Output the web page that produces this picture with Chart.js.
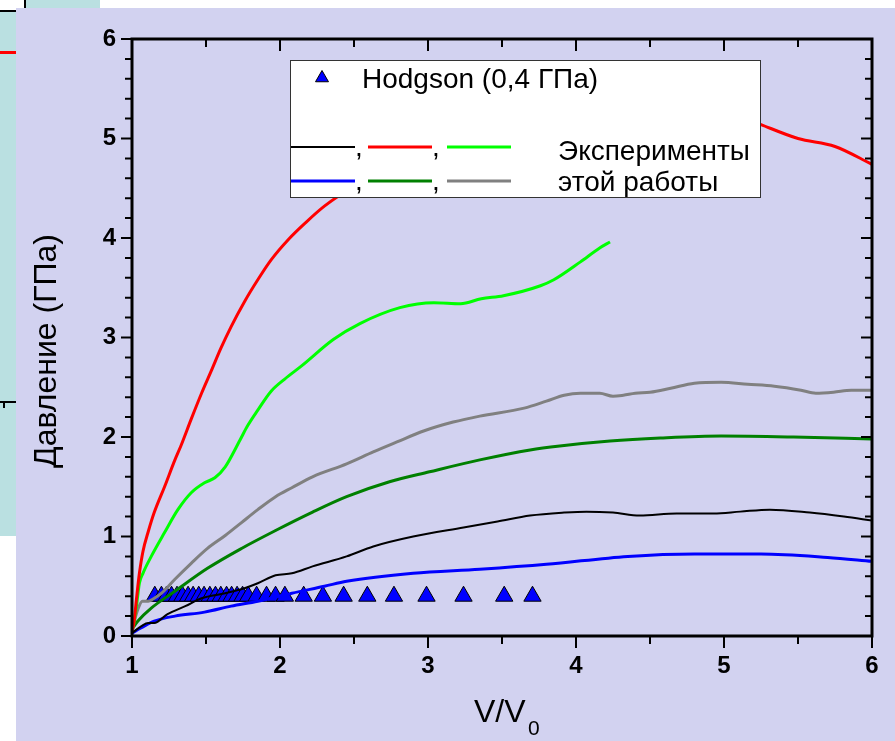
<!DOCTYPE html>
<html lang="ru">
<head>
<meta charset="utf-8">
<title>Давление (ГПа) — V/V0</title>
<script src="https://cdn.jsdelivr.net/npm/chart.js@4/dist/chart.umd.min.js"></script>
<style>
  html, body { margin: 0; padding: 0; background: #fff; }
  #page { position: relative; width: 895px; height: 741px; overflow: hidden; }
  #back { position: absolute; left: 0; top: 0; width: 100px; height: 536px; background: #bae0e1; }
  #back .box { position: absolute; left: 0; top: 0; width: 24px; height: 10px; background: #fff; border-right: 2px solid #000; border-bottom: 2px solid #000; }
  #back .red { position: absolute; left: 0; top: 51px; width: 16px; height: 3px; background: #f00; }
  #back .axis { position: absolute; left: 0; top: 401px; width: 16px; height: 2px; background: #000; }
  #back .tick { position: absolute; left: 3px; top: 402px; width: 2px; height: 6px; background: #000; }
  #plot { position: absolute; left: 16px; top: 8px; right: 0; bottom: 0; background: #d2d2f0; }
  #chart { position: absolute; left: 0; top: 0; }
</style>
</head>
<body>
<div id="page">
  <div id="back"><div class="box"></div><div class="red"></div><div class="axis"></div><div class="tick"></div></div>
  <div id="plot"></div>
  <canvas id="chart" width="895" height="741"></canvas>
</div>
<script>
const FONT = '"Liberation Sans", Arial, sans-serif';

// Pressure (GPa) vs V/V0, one pair of arrays per run
const blackX = [1.0, 1.064, 1.11, 1.15, 1.24, 1.36, 1.47, 1.63, 1.76, 1.85, 1.97, 2.08, 2.22, 2.45, 2.63, 2.90, 3.24, 3.47, 3.69, 3.92, 4.07, 4.25, 4.43, 4.68, 4.93, 5.11, 5.31, 5.58, 5.81, 6.0];
const blackY = [0.03, 0.10, 0.13, 0.13, 0.22, 0.30, 0.38, 0.43, 0.48, 0.53, 0.61, 0.63, 0.70, 0.80, 0.90, 1.00, 1.09, 1.15, 1.21, 1.24, 1.25, 1.24, 1.21, 1.23, 1.23, 1.25, 1.27, 1.24, 1.20, 1.16];

const redX = [1.0, 1.013, 1.03, 1.05, 1.074, 1.11, 1.15, 1.22, 1.29, 1.33, 1.40, 1.47, 1.54, 1.60, 1.67, 1.76, 1.85, 1.94, 2.06, 2.17, 2.30, 2.5, 2.8, 3.2, 3.6, 4.0, 4.4, 4.8, 5.05, 5.25, 5.5, 5.75, 6.0];
const redY = [0.05, 0.13, 0.37, 0.63, 0.85, 1.05, 1.24, 1.50, 1.77, 1.91, 2.18, 2.44, 2.68, 2.89, 3.11, 3.36, 3.58, 3.78, 3.99, 4.15, 4.32, 4.52, 4.75, 4.98, 5.13, 5.25, 5.32, 5.33, 5.26, 5.14, 5.00, 4.92, 4.74];

const limeX = [1.0, 1.01, 1.03, 1.05, 1.074, 1.13, 1.22, 1.31, 1.40, 1.49, 1.56, 1.63, 1.73, 1.78, 1.85, 1.94, 2.03, 2.15, 2.36, 2.54, 2.81, 3.04, 3.22, 3.36, 3.51, 3.76, 3.85, 4.03, 4.16, 4.23];
const limeY = [0.05, 0.10, 0.30, 0.53, 0.63, 0.80, 1.04, 1.27, 1.44, 1.54, 1.59, 1.70, 1.97, 2.11, 2.27, 2.46, 2.58, 2.72, 2.98, 3.14, 3.30, 3.35, 3.34, 3.39, 3.42, 3.52, 3.58, 3.76, 3.90, 3.96];

const blueX = [1.0, 1.06, 1.15, 1.29, 1.49, 1.67, 1.85, 2.08, 2.30, 2.45, 2.90, 3.35, 3.80, 4.35, 4.80, 5.25, 5.70, 6.0];
const blueY = [0.03, 0.08, 0.15, 0.20, 0.24, 0.30, 0.35, 0.43, 0.50, 0.55, 0.63, 0.67, 0.72, 0.80, 0.825, 0.825, 0.79, 0.75];

const greenX = [1.0, 1.04, 1.13, 1.29, 1.51, 1.74, 1.97, 2.22, 2.45, 2.74, 3.01, 3.35, 3.69, 3.89, 4.23, 4.57, 4.98, 5.47, 6.0];
const greenY = [0.07, 0.15, 0.28, 0.45, 0.68, 0.88, 1.06, 1.245, 1.40, 1.55, 1.65, 1.77, 1.87, 1.91, 1.96, 1.99, 2.01, 2.00, 1.98];

const grayX = [1.0, 1.04, 1.07, 1.11, 1.14, 1.20, 1.29, 1.40, 1.51, 1.63, 1.74, 1.85, 1.97, 2.08, 2.22, 2.45, 2.63, 2.79, 2.97, 3.17, 3.35, 3.65, 3.80, 3.92, 4.03, 4.16, 4.25, 4.32, 4.40, 4.50, 4.64, 4.80, 4.98, 5.16, 5.34, 5.52, 5.62, 5.74, 5.86, 6.0];
const grayY = [0.07, 0.27, 0.35, 0.35, 0.37, 0.43, 0.57, 0.73, 0.88, 1.01, 1.14, 1.27, 1.40, 1.49, 1.60, 1.73, 1.85, 1.95, 2.06, 2.15, 2.21, 2.29, 2.36, 2.42, 2.44, 2.44, 2.41, 2.42, 2.44, 2.45, 2.49, 2.54, 2.55, 2.53, 2.51, 2.47, 2.44, 2.45, 2.47, 2.47];

// Hodgson, 0,4 GPa
const hodgsonX = [1.154, 1.199, 1.233, 1.267, 1.304, 1.341, 1.379, 1.413, 1.451, 1.487, 1.526, 1.564, 1.600, 1.639, 1.673, 1.710, 1.747, 1.785, 1.842, 1.909, 1.970, 2.033, 2.16, 2.29, 2.43, 2.59, 2.77, 2.99, 3.24, 3.515, 3.706];
const hodgsonY = [0.4, 0.4, 0.4, 0.4, 0.4, 0.4, 0.4, 0.4, 0.4, 0.4, 0.4, 0.4, 0.4, 0.4, 0.4, 0.4, 0.4, 0.4, 0.4, 0.4, 0.4, 0.4, 0.4, 0.4, 0.4, 0.4, 0.4, 0.4, 0.4, 0.4, 0.4];

const xTicks = [1, 2, 3, 4, 5, 6];
const yTicks = [0, 1, 2, 3, 4, 5, 6];

const pts = (xs, ys) => xs.map((v, i) => ({ x: v, y: ys[i] }));
const line = (data, color, width) => ({
  data, borderColor: color, borderWidth: width, pointRadius: 0,
  cubicInterpolationMode: 'monotone', fill: false
});

// axis box with minor ticks, axis titles
const frame = {
  id: 'frame',
  afterDraw(chart) {
    const { ctx, chartArea: a, scales: { x, y } } = chart;
    ctx.save();
    ctx.strokeStyle = '#000';
    ctx.lineWidth = 2;
    ctx.beginPath();
    for (let v = y.min; v <= y.max + 1e-6; v += 0.2) {
      const L = Math.abs(v - Math.round(v)) < 1e-6 ? 11 : 7;
      const py = y.getPixelForValue(v);
      ctx.moveTo(a.left - L, py); ctx.lineTo(a.left, py);
      ctx.moveTo(a.right, py); ctx.lineTo(a.right - L, py);
    }
    for (let v = x.min; v <= x.max + 1e-6; v += 0.5) {
      const L = Math.abs(v - Math.round(v)) < 1e-6 ? 12 : 8;
      const px = x.getPixelForValue(v);
      ctx.moveTo(px, a.bottom); ctx.lineTo(px, a.bottom + L);
      ctx.moveTo(px, a.top); ctx.lineTo(px, a.top + L);
    }
    ctx.stroke();
    ctx.lineWidth = 3;
    ctx.strokeRect(a.left, a.top, a.width, a.height);

    ctx.fillStyle = '#000';
    ctx.font = `32px ${FONT}`;
    ctx.textBaseline = 'alphabetic';
    ctx.textAlign = 'left';
    ctx.fillText('V/V', 474, 722);
    ctx.font = `21px ${FONT}`;
    ctx.fillText('0', 528, 735);

    ctx.translate(47, 351);
    ctx.rotate(-Math.PI / 2);
    ctx.font = `32px ${FONT}`;
    ctx.textAlign = 'center';
    ctx.textBaseline = 'middle';
    ctx.fillText('Давление (ГПа)', 0, 0);
    ctx.restore();
  }
};

// boxed legend: Hodgson marker, then the six runs as two rows of short lines
const legendBox = {
  id: 'legendBox',
  afterDraw(chart) {
    const { ctx } = chart;
    const ds = chart.data.datasets;
    ctx.save();
    ctx.fillStyle = '#fff';
    ctx.fillRect(290, 60, 470, 137);
    ctx.strokeStyle = '#333';
    ctx.lineWidth = 1;
    ctx.strokeRect(290.5, 60.5, 470, 137);

    const h = ds[6];
    ctx.fillStyle = h.backgroundColor;
    ctx.strokeStyle = h.borderColor;
    ctx.lineWidth = 1;
    Chart.helpers.drawPoint(ctx, { pointStyle: 'triangle', radius: 7.5, rotation: 0, borderWidth: 1 }, 322, 78);

    ctx.fillStyle = '#000';
    ctx.font = `28px ${FONT}`;
    ctx.textBaseline = 'alphabetic';
    ctx.fillText(h.label, 362, 88);

    const rows = [[ds[0], ds[1], ds[2]], [ds[3], ds[4], ds[5]]];
    const rowY = [147, 181];
    const segX = [291, 368, 447];
    rows.forEach((row, r) => {
      row.forEach((d, i) => {
        ctx.strokeStyle = d.borderColor;
        ctx.lineWidth = d.borderWidth;
        ctx.beginPath();
        ctx.moveTo(segX[i], rowY[r]);
        ctx.lineTo(segX[i] + 64, rowY[r]);
        ctx.stroke();
        if (i < 2) ctx.fillText(',', segX[i] + 64, rowY[r] + 9);
      });
    });
    ctx.fillText('Эксперименты', 558, 160);
    ctx.fillText('этой работы', 558, 191);
    ctx.restore();
  }
};

new Chart(document.getElementById('chart'), {
  type: 'line',
  data: {
    datasets: [
      line(pts(blackX, blackY), '#000000', 2),
      line(pts(redX, redY), '#ff0000', 3),
      line(pts(limeX, limeY), '#00ff00', 3),
      line(pts(blueX, blueY), '#0000ff', 3),
      line(pts(greenX, greenY), '#008000', 3),
      line(pts(grayX, grayY), '#808080', 3),
      {
        label: 'Hodgson (0,4 ГПа)', data: pts(hodgsonX, hodgsonY), showLine: false,
        pointStyle: 'triangle', pointRadius: 10, backgroundColor: '#0000ff',
        borderColor: '#000000', borderWidth: 1
      }
    ]
  },
  options: {
    responsive: false,
    animation: false,
    devicePixelRatio: 1,
    layout: { padding: { left: 0, top: 39, right: 23, bottom: 0 } },
    plugins: { legend: { display: false }, tooltip: { enabled: false } },
    scales: {
      x: {
        type: 'linear', min: 1, max: 6,
        grid: { display: false, drawTicks: false }, border: { display: false },
        afterBuildTicks: s => { s.ticks = xTicks.map(v => ({ value: v })); },
        ticks: { padding: 16, color: '#000', font: { family: FONT, size: 24, weight: 'bold' } },
        afterFit: s => { s.height = 105; }
      },
      y: {
        type: 'linear', min: 0, max: 6,
        grid: { display: false, drawTicks: false }, border: { display: false },
        afterBuildTicks: s => { s.ticks = yTicks.map(v => ({ value: v })); },
        ticks: { padding: 16, color: '#000', font: { family: FONT, size: 24, weight: 'bold' } },
        afterFit: s => { s.width = 132; }
      }
    }
  },
  plugins: [frame, legendBox]
});
</script>
</body>
</html>
